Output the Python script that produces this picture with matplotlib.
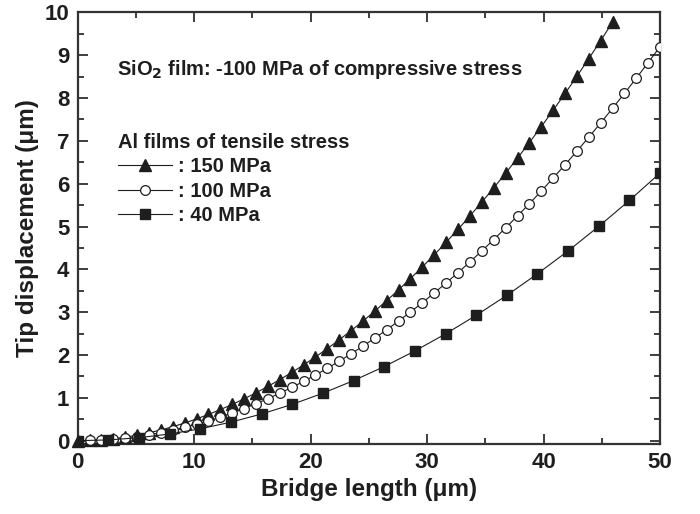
import matplotlib
matplotlib.use("Agg")
import matplotlib.pyplot as plt
from matplotlib.ticker import MultipleLocator

plt.rcParams['font.family'] = ['Liberation Sans', 'DejaVu Sans']
plt.rcParams['font.weight'] = 'bold'
plt.rcParams['mathtext.default'] = 'bf'

# Al 150 MPa (triangles)
x_150 = [0.00, 1.02, 2.04, 3.06, 4.08, 5.10, 6.12, 7.14, 8.16, 9.18,
         10.20, 11.22, 12.24, 13.27, 14.29, 15.31, 16.33, 17.35, 18.37, 19.39,
         20.41, 21.43, 22.45, 23.47, 24.49, 25.51, 26.53, 27.55, 28.57, 29.59,
         30.61, 31.63, 32.65, 33.67, 34.69, 35.71, 36.73, 37.76, 38.78, 39.80,
         40.82, 41.84, 42.86, 43.88, 44.90, 45.92]
y_150 = [0.000, 0.005, 0.020, 0.046, 0.082, 0.128, 0.184, 0.250, 0.326, 0.412,
         0.508, 0.612, 0.725, 0.846, 0.978, 1.118, 1.267, 1.425, 1.592, 1.768,
         1.954, 2.149, 2.354, 2.568, 2.792, 3.026, 3.270, 3.522, 3.785, 4.057,
         4.340, 4.632, 4.934, 5.246, 5.568, 5.900, 6.242, 6.598, 6.960, 7.332,
         7.714, 8.106, 8.508, 8.920, 9.340, 9.770]

# Al 100 MPa (open circles)
x_100 = x_150 + [46.94, 47.96, 48.98, 50.00]
y_100 = [0.000, 0.004, 0.015, 0.034, 0.061, 0.096, 0.138, 0.188, 0.245, 0.310,
         0.383, 0.463, 0.551, 0.647, 0.751, 0.863, 0.981, 1.108, 1.242, 1.384,
         1.533, 1.690, 1.855, 2.027, 2.207, 2.395, 2.590, 2.793, 3.004, 3.222,
         3.448, 3.682, 3.923, 4.172, 4.429, 4.693, 4.965, 5.247, 5.534, 5.829,
         6.132, 6.442, 6.760, 7.086, 7.419, 7.760, 8.109, 8.465, 8.828, 9.200]

# Al 40 MPa (squares)
x_40 = [0.00, 2.63, 5.26, 7.89, 10.53, 13.16, 15.79, 18.42, 21.05, 23.68,
        26.32, 28.95, 31.58, 34.21, 36.84, 39.47, 42.11, 44.74, 47.37, 50.00]
y_40 = [0.000, 0.017, 0.069, 0.156, 0.277, 0.433, 0.623, 0.848, 1.108, 1.402,
        1.731, 2.095, 2.493, 2.926, 3.393, 3.896, 4.432, 5.004, 5.610, 6.250]

ink = '#1e1e1e'

fig = plt.figure(figsize=(7.0, 5.14), dpi=100)
ax = fig.add_axes([0.111, 0.136, 0.832, 0.840])

ax.plot(x_150, y_150, '-', color=ink, lw=0.8, marker='^', ms=8,
        mfc=ink, mec=ink, label=': 150 MPa', clip_on=False, zorder=3)
ax.plot(x_100, y_100, '-', color=ink, lw=0.8, marker='o', ms=7,
        mfc='white', mec=ink, mew=0.9, label=': 100 MPa', zorder=3)
ax.plot(x_40, y_40, '-', color=ink, lw=0.8, marker='s', ms=7,
        mfc=ink, mec=ink, label=': 40 MPa', zorder=3)

ax.set_xlim(0, 50)
ax.set_ylim(-0.08, 10)
ax.xaxis.set_major_locator(MultipleLocator(10))
ax.xaxis.set_minor_locator(MultipleLocator(5))
ax.yaxis.set_major_locator(MultipleLocator(1))
ax.yaxis.set_minor_locator(MultipleLocator(0.5))
ax.tick_params(which='both', direction='in', top=True, right=True,
               color=ink, width=1.2, labelsize=16, labelcolor=ink)
ax.tick_params(which='major', length=7, pad=6)
ax.tick_params(which='minor', length=4)
for s in ax.spines.values():
    s.set_linewidth(1.6)
    s.set_color('#333333')

ax.set_xlabel('Bridge length (μm)', fontsize=17.5, fontweight='bold', color=ink, labelpad=3)
ax.set_ylabel('Tip displacement (μm)', fontsize=17.5, fontweight='bold', color=ink, labelpad=4)

ax.text(3.4, 8.66, 'SiO$_2$ film: -100 MPa of compressive stress', fontsize=14.5,
        fontweight='bold', color=ink, va='center', ha='left')

leg = ax.legend(loc='upper left', bbox_to_anchor=(0.052, 0.745), frameon=False,
                title='Al films of tensile stress', alignment='left',
                prop={'size': 14.5, 'weight': 'bold'}, handlelength=2.7,
                handletextpad=0.3, labelspacing=0.28, borderpad=0)
leg.get_title().set_fontsize(14.5)
leg.get_title().set_fontweight('bold')
leg.get_title().set_color(ink)
for t in leg.get_texts():
    t.set_color(ink)

fig.savefig('out.png', dpi=100)
